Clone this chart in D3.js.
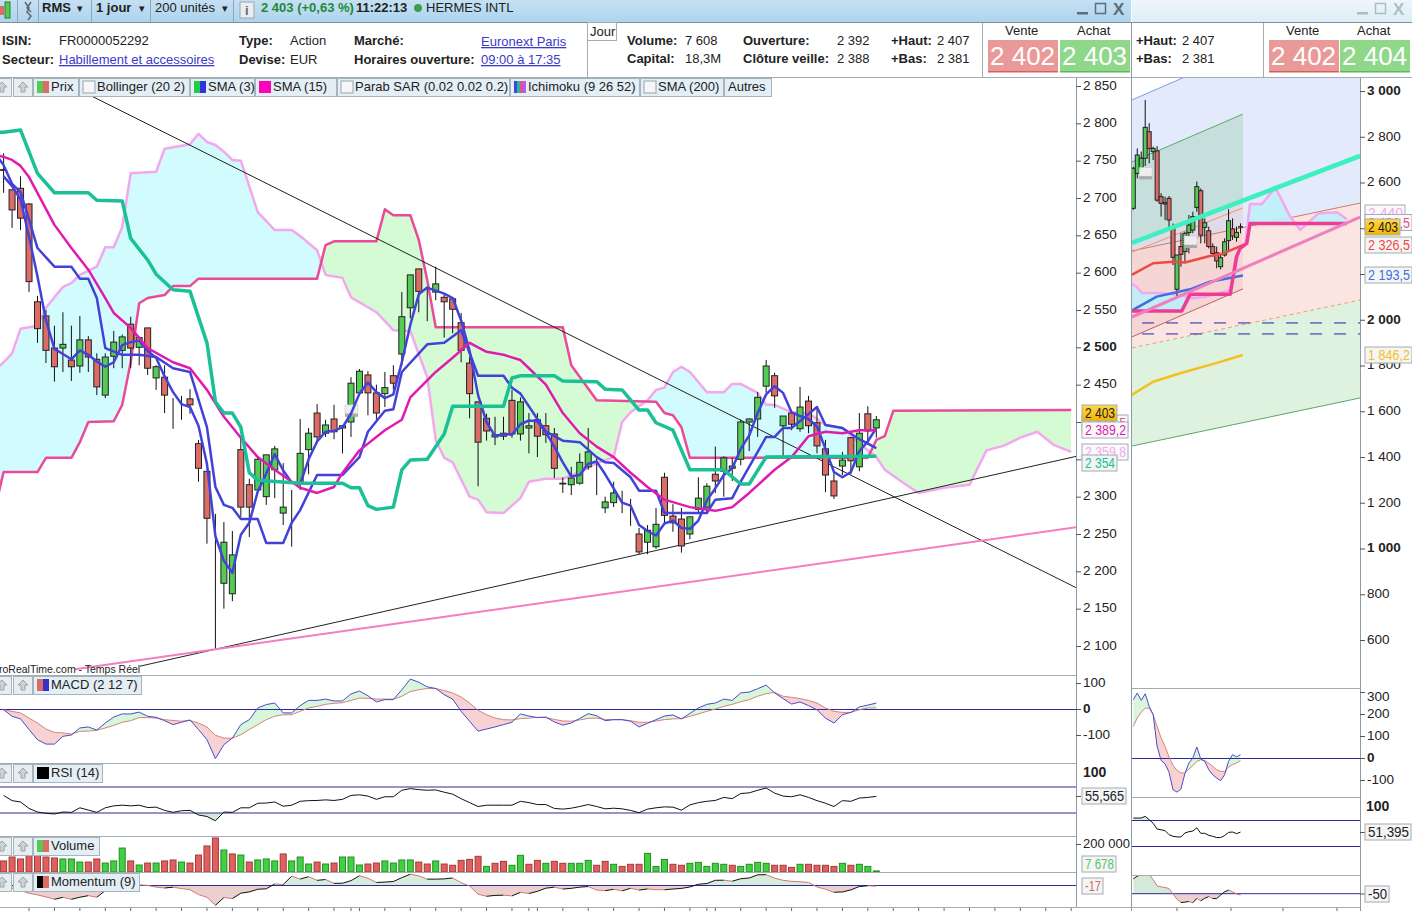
<!DOCTYPE html>
<html>
<head>
<meta charset="utf-8">
<title>RMS - HERMES INTL</title>
<script src="https://cdnjs.cloudflare.com/ajax/libs/d3/7.8.5/d3.min.js"></script>
<style>
body { margin:0; background:#fff; overflow:hidden; }
text { font-family:"Liberation Sans", Arial, sans-serif; font-size:13px; fill:#222; }
.b { font-weight:bold; }
.lnk { fill:#3b3bc8; text-decoration:underline; }
.axis path { stroke:#8d9ba5; }
.axis line { stroke:#555; }
.axis text { font-size:13.5px; fill:#222; }
</style>
</head>
<body>
<svg id="chart" width="1412" height="911"></svg>
<script>
// ---------- main window, price panel (1 bar = 1 day, index 0 is the oldest)
var opens = [2738,2711,2713,2692,2561,2542,2499,2499,2483,2475,2510,2484,2436,2488,2496,2531,2500,2526,2459,2460,2411,2425,2431,2371,2334,2133,2184,2170,2363,2316,2309,2300,2336,2278,2306,2318,2363,2412,2385,2404,2392,2400,2439,2463,2439,2438,2462,2491,2553,2605,2569,2574,2567,2565,2533,2479,2427,2405,2380,2385,2429,2384,2392,2403,2395,2384,2318,2316,2318,2340,2336,2285,2292,2278,2281,2250,2239,2233,2326,2274,2270,2250,2283,2286,2330,2334,2338,2350,2400,2404,2448,2462,2395,2412,2391,2428,2399,2364,2321,2341,2379,2340,2411,2392];
var highs = [2760,2711,2729,2693,2569,2550,2529,2547,2529,2542,2515,2492,2492,2522,2517,2541,2514,2526,2476,2476,2432,2435,2444,2376,2334,2277,2266,2254,2379,2324,2354,2356,2368,2345,2309,2404,2392,2424,2403,2423,2396,2460,2471,2468,2450,2467,2476,2574,2597,2605,2581,2608,2573,2567,2546,2487,2427,2411,2407,2407,2443,2433,2412,2412,2412,2392,2326,2340,2358,2392,2352,2300,2320,2308,2297,2258,2262,2285,2332,2290,2285,2273,2326,2318,2367,2354,2352,2403,2405,2440,2483,2466,2408,2413,2447,2435,2420,2376,2333,2360,2380,2412,2421,2408];
var lows = [2707,2660,2657,2574,2506,2479,2454,2467,2455,2466,2467,2436,2432,2472,2472,2472,2476,2463,2443,2412,2391,2403,2411,2320,2237,2097,2150,2160,2273,2246,2306,2289,2298,2262,2233,2309,2330,2372,2380,2377,2358,2380,2436,2409,2403,2420,2443,2476,2539,2547,2535,2563,2513,2519,2480,2405,2314,2375,2369,2376,2379,2375,2358,2353,2372,2325,2305,2302,2316,2336,2302,2278,2286,2278,2261,2223,2223,2230,2262,2253,2225,2243,2278,2278,2305,2300,2321,2342,2361,2380,2439,2419,2353,2389,2387,2385,2358,2306,2297,2329,2330,2334,2372,2379];
var closes = [2737,2684,2673,2588,2525,2496,2474,2504,2474,2510,2487,2447,2487,2507,2514,2499,2513,2472,2474,2436,2411,2425,2423,2338,2271,2133,2239,2222,2286,2286,2350,2356,2364,2286,2306,2358,2385,2380,2396,2387,2395,2452,2468,2439,2412,2446,2452,2541,2597,2575,2569,2585,2561,2551,2496,2438,2373,2388,2383,2381,2384,2427,2395,2381,2383,2338,2317,2325,2346,2360,2336,2293,2305,2278,2281,2226,2255,2263,2275,2265,2234,2273,2298,2314,2321,2352,2341,2400,2404,2433,2475,2435,2408,2397,2420,2395,2368,2329,2301,2349,2348,2385,2388,2403];

var sma3 = [2729,2716,2698,2648,2595,2536,2498,2491,2484,2496,2490,2481,2474,2480,2503,2507,2509,2495,2486,2461,2440,2424,2420,2395,2344,2247,2214,2198,2249,2265,2307,2331,2357,2335,2319,2317,2350,2374,2387,2388,2393,2411,2438,2453,2440,2432,2437,2480,2530,2571,2580,2576,2572,2566,2536,2495,2436,2400,2381,2384,2383,2397,2402,2401,2386,2367,2346,2327,2329,2344,2347,2330,2311,2292,2288,2262,2254,2248,2264,2268,2258,2257,2268,2295,2311,2329,2338,2364,2382,2412,2437,2448,2439,2413,2408,2404,2394,2364,2333,2326,2333,2361,2374,2392];

// lines as [bar index, price] vertices
var sma15 = [[-1,2758],[0,2755],[1,2751],[2,2743],[3,2728],[6,2664],[8,2633],[10,2604],[12,2566],[13,2546],[15,2526],[17,2499],[20,2480],[22,2472],[24,2443],[26,2407],[28,2379],[30,2353],[32,2336],[35,2312],[37,2305],[39,2313],[40,2332],[42,2362],[45,2389],[47,2403],[48,2433],[51,2467],[53,2486],[55,2506],[57,2494],[59,2490],[61,2483],[62,2472],[64,2450],[66,2412],[68,2385],[70,2367],[72,2353],[74,2332],[76,2313],[78,2296],[81,2286],[84,2281],[86,2286],[88,2305],[91,2336],[93,2353],[95,2381],[97,2387],[99,2385],[101,2389],[103,2389]];
var tenkan = [[-1,2760],[0,2744],[1,2719],[2,2708],[3,2671],[4,2633],[6,2608],[8,2608],[9,2592],[10,2592],[11,2566],[12,2499],[14,2490],[16,2490],[18,2487],[20,2472],[22,2467],[24,2393],[25,2313],[26,2289],[27,2285],[28,2270],[30,2270],[31,2238],[33,2238],[34,2265],[35,2282],[37,2329],[40,2329],[42,2353],[43,2387],[45,2415],[46,2417],[47,2467],[50,2504],[52,2506],[54,2523],[56,2462],[59,2462],[60,2446],[61,2438],[64,2387],[66,2375],[68,2373],[70,2353],[71,2346],[72,2345],[74,2326],[75,2308],[77,2308],[78,2278],[83,2278],[84,2296],[86,2298],[87,2320],[90,2380],[91,2380],[92,2392],[93,2392],[96,2420],[97,2396],[99,2392],[101,2377],[103,2365]];
var kijun = [[-1,2788],[0,2788],[2,2791],[4,2733],[6,2707],[10,2707],[11,2697],[14,2696],[15,2646],[17,2617],[18,2598],[20,2577],[22,2575],[24,2506],[25,2427],[26,2412],[27,2412],[28,2393],[29,2332],[30,2322],[35,2318],[40,2318],[41,2312],[42,2312],[43,2288],[44,2283],[46,2286],[47,2336],[48,2349],[50,2350],[52,2384],[53,2421],[59,2421],[60,2459],[61,2462],[65,2462],[66,2455],[70,2454],[71,2444],[73,2443],[75,2416],[76,2416],[77,2399],[79,2389],[81,2336],[85,2336],[87,2317],[88,2317],[90,2353],[103,2354]];
var senkouA = [[-1,2470],[0,2480],[1,2492],[2,2525],[4,2529],[5,2553],[7,2581],[8,2586],[9,2597],[11,2608],[12,2634],[13,2634],[14,2661],[15,2733],[18,2735],[19,2766],[22,2772],[23,2786],[24,2775],[25,2771],[26,2762],[27,2751],[28,2750],[30,2681],[32,2657],[34,2657],[35,2649],[37,2630],[38,2597],[40,2593],[41,2567],[44,2547],[46,2523],[48,2522],[50,2460],[51,2376],[52,2352],[53,2346],[55,2300],[56,2296],[57,2279],[59,2278],[61,2298],[62,2320],[64,2324],[66,2324],[68,2333],[70,2345],[72,2353],[73,2400],[74,2413],[76,2429],[77,2443],[78,2446],[79,2467],[80,2474],[81,2467],[83,2440],[85,2440],[86,2451],[87,2451],[89,2439],[90,2423],[91,2423],[93,2413],[95,2412],[97,2396],[99,2392],[102,2362],[103,2353],[104,2336],[106,2320],[108,2305],[111,2312],[114,2316],[116,2362],[118,2368],[120,2379],[122,2387],[124,2369],[126,2360]];
var senkouB = [[-1,2285],[0,2333],[4,2333],[5,2352],[8,2352],[9,2373],[10,2400],[13,2401],[14,2423],[15,2480],[16,2559],[17,2566],[19,2570],[20,2582],[22,2582],[23,2592],[37,2592],[38,2637],[39,2642],[44,2642],[45,2685],[46,2677],[48,2677],[49,2644],[50,2590],[51,2527],[66,2527],[67,2476],[70,2429],[77,2427],[78,2412],[79,2409],[80,2393],[81,2352],[102,2352],[103,2376],[104,2381],[105,2415],[126,2416]];

// straight trend lines, [bar index, price] end points
var trendDown = [[8,2850],[126.6,2178]];
var trendUp = [[16.1,2073],[126.6,2354]];
var trendPink = [[8.4,2069],[126.6,2259]];

var priceTicks = [2100,2150,2200,2250,2300,2350,2400,2450,2500,2550,2600,2650,2700,2750,2800,2850];
var barTicks = [3,6,9,12,15,18,21,24,27,30,33,36,39,41,42,45,48,51,54,57,60,62,63,66,69,72,75,78,81,83,84,87,90,93,96,99,102,105,108,111,114,117,120,123,126];

// ---------- main window, indicator panels
var macdLine = [-3,-28,-38,-79,-118,-135,-135,-105,-100,-73,-69,-81,-54,-31,-19,-19,-12,-28,-32,-45,-60,-51,-42,-79,-118,-191,-137,-112,-60,-41,4,17,23,-15,-15,13,33,33,38,31,31,58,69,51,27,36,36,74,115,103,85,79,55,38,-9,-47,-85,-77,-69,-60,-51,-19,-27,-33,-31,-50,-62,-54,-36,-18,-26,-45,-41,-41,-47,-69,-55,-41,-27,-23,-38,-17,4,18,23,38,33,62,65,78,92,62,40,19,27,13,-3,-35,-54,-22,-13,8,15,23];
var macdSignal = [-3,-9,-15,-35,-54,-77,-90,-92,-96,-86,-85,-82,-73,-63,-51,-45,-33,-33,-35,-41,-44,-47,-44,-54,-69,-101,-112,-112,-99,-79,-60,-41,-28,-22,-22,-9,4,10,18,22,24,33,42,41,38,38,38,49,67,74,79,79,71,62,46,23,-5,-22,-35,-41,-42,-37,-35,-32,-33,-40,-46,-47,-42,-36,-35,-40,-41,-41,-45,-51,-51,-46,-41,-38,-37,-28,-19,-9,0,10,18,28,36,49,59,64,49,45,40,33,23,4,-9,-13,-13,-3,4,4];
var rsiValues = [57,49,47,37,31.5,29.5,28.5,31.5,31,38,34.5,31,38,41,42,41,42,38.4,39,34,31,33.5,34,27,24.6,18,31.5,31,38,38,45,45.3,47,40.4,42,48,49,49.3,50.2,49.3,51,57,58,56,51,55,55,65,67.5,66,65,65.5,62,59,52,46,40,42,42,42,42,48,46,43,43,37,36,37.4,40,43,40,36.4,37.4,36.4,34,30.5,36,38,39.4,39,34.4,42.4,46,48,49.3,54,52,60,61,65,68.5,60.6,56,55,58,54,49,45,40,49,48,53,54,55.6];
var volumes = [79000,107000,93000,117000,117000,107000,100000,93000,93000,71000,71000,93000,64000,79000,171000,79000,50000,64000,64000,79000,86000,71000,64000,121000,186000,243000,157000,129000,121000,71000,86000,93000,79000,129000,79000,107000,57000,71000,57000,64000,107000,107000,50000,57000,64000,79000,64000,86000,86000,71000,57000,79000,57000,48000,83000,90000,112000,40000,62000,76000,48000,119000,55000,83000,62000,76000,62000,62000,62000,83000,48000,76000,55000,40000,55000,55000,133000,40000,90000,55000,48000,62000,69000,40000,62000,55000,48000,40000,55000,69000,62000,48000,48000,33000,55000,55000,48000,48000,40000,62000,48000,55000,40000,7678];
var volumeUp = [0,0,0,0,0,0,0,1,1,1,0,0,1,1,1,0,1,0,1,0,0,1,0,0,0,0,1,0,1,0,1,1,1,0,1,1,1,0,1,0,1,1,1,0,0,1,1,1,1,0,0,1,0,0,0,0,0,1,0,0,1,1,0,0,1,0,0,1,1,1,0,0,1,0,0,0,1,1,1,0,0,1,1,1,1,1,0,1,1,1,1,0,0,0,1,0,0,0,0,1,0,1,1,1];
var momentum = [-20,-60,-100,-150,-183,-220,-266,-228,-266,-227,-197,-226,-101,-18,18,25,9,-2,-36,-51,-36,-62,-84,-176,-228,-380,-233,-252,-150,-125,-75,-67,26,15,173,119,163,94,110,37,39,88,182,133,54,61,72,145,210,180,117,117,122,139,50,-14,-168,-209,-192,-188,-201,-134,-156,-115,-55,-35,-71,-58,-35,-24,-91,-102,-76,-105,-57,-91,-70,-83,-85,-71,-59,-32,20,33,95,97,78,125,139,199,202,137,94,76,68,54,-32,-75,-132,-126,-87,-23,-9,-17];

var macdTicks = [-100,0,100];

// ---------- second window (longer time frame)
var opens2 = [2487,2640,2662,2706,2822,2735,2738,2538,2512,2531,2400,2133,2320,2298,2381,2392,2491,2564,2404,2389,2320,2293,2232,2283,2346,2397,2360,2405];
var highs2 = [2669,2749,2735,2961,2859,2757,2759,2553,2538,2541,2421,2283,2378,2385,2458,2472,2604,2574,2443,2407,2334,2320,2283,2356,2483,2443,2407,2421];
var lows2 = [2480,2618,2625,2672,2684,2698,2516,2451,2436,2400,2239,2101,2232,2254,2290,2378,2472,2334,2334,2312,2276,2225,2220,2276,2305,2349,2341,2378];
var closes2 = [2662,2720,2706,2841,2749,2749,2523,2509,2506,2436,2273,2283,2286,2378,2414,2451,2582,2370,2424,2320,2290,2257,2271,2341,2433,2366,2382,2407];

var smaRed2 = [[-0.4,2196],[5,2247],[10,2254],[13,2250],[19.3,2279],[22.7,2290],[27.6,2326]];
var smaBlue2 = [[-0.4,2040],[5.9,2101],[14.3,2133],[19.3,2166],[27.6,2193]];
var smaYellow2 = [[-0.4,1671],[5,1729],[11.8,1766],[20.2,1807],[27.6,1846]];
var senkouA2 = [[-0.4,2156],[0.8,2145],[2.1,2118],[7.6,2116],[11.8,2108],[15.1,2094],[18.5,2101],[24.4,2130],[26.9,2320],[28.2,2334],[29.4,2506],[32.4,2506],[35.3,2567],[36.1,2567],[39.5,2451],[42,2392],[46.6,2465],[51.3,2470],[53.8,2439]];
var senkouB2 = [[-0.4,2038],[12.2,2038],[14.3,2111],[24.4,2111],[26,2276],[26.9,2312],[28.6,2334],[29.4,2421],[53.8,2421]];

var channelTop = [[-0.33,2961],[57.1,3393]];
var channelMid = [[-0.33,2301],[57.1,2510]];
var channelLow = [[-0.33,1877],[57.1,2086]];
var channelBase = [[-0.33,1448],[57.1,1658]];
var shortUpper = [[-0.33,2690],[27.6,2899]];
var shortMiddle = [[-0.33,2336],[27.6,2521]];
var shortLower = [[-0.33,1925],[27.6,2135]];
var trendTeal2 = [[-0.33,2336],[57.1,2716]];
var trendPink2 = [[-0.33,2012],[57.1,2449]];
var trendOrange2 = [[-0.33,2296],[27.6,2489]];
var dashLevels2 = [1986,1938];

var priceTicks2 = [600,800,1000,1200,1400,1600,1800,2000,2200,2400,2600,2800,3000];

var macdLine2 = [265,295,262,292,235,197,53,-11,-27,-65,-144,-155,-141,-71,-23,0,50,-5,-15,-53,-76,-91,-103,-76,-15,15,5,15];
var macdSignal2 = [144,182,208,226,227,197,144,91,53,5,-33,-56,-68,-68,-50,-35,-15,-8,-11,-23,-38,-53,-61,-61,-41,-30,-23,-12];
var rsiValues2 = [73,73,73,75.6,70.5,65,56,55,53.6,47.4,45,44,44,50,52,53,58,49.5,49.5,46.4,45,43,43,46,51,51.5,49,51.4];
var momentum2 = [575,675,725,850,725,550,300,262,237,200,-12,-212,-337,-325,-300,-350,-175,-275,-175,-112,-187,-187,-50,75,137,75,-12,-50];
var macdTicks2 = [-100,0,100,200,300];
var barTicks2 = [11,24.6,37.7,51.3];

// ---------- legends and header texts
var priceLegend = ["Prix","Bollinger (20 2)","SMA (3)","SMA (15)","Parab SAR (0.02 0.02 0.2)","Ichimoku (9 26 52)","SMA (200)","Autres"];

var svg = d3.select("#chart");
var defs = svg.append("defs");

var spaceFormat = d3.formatLocale({ decimal:",", thousands:" ", grouping:[3], currency:["",""], minus:"-" }).format(",");

// Scales
var x = d3.scaleLinear().domain([0,103]).range([3.6,876.3]);
var y = d3.scaleLinear().domain([2100,2850]).range([646,86]);
var x2 = d3.scaleLinear().domain([0,27]).range([1133.3,1240.5]);
var y2 = d3.scaleLinear().domain([600,3000]).range([640,91]);

var macdY = d3.scaleLinear().domain([-100,100]).range([735,683]);
var rsiY = d3.scaleLinear().domain([30,70]).range([813,787]);
var volY = d3.scaleLinear().domain([0,200000]).range([872,844]);
var momY = d3.scaleLinear().domain([-380,0]).range([905.3,885.3]);

var macdY2 = d3.scaleLinear().domain([0,100]).range([758,736]);
var rsiY2 = d3.scaleLinear().domain([30,70]).range([846,820]);
var momY2 = d3.scaleLinear().domain([-50,0]).range([895,893.7]);

function indexed(values) {
    return values.map(function(v, i) { return [i, v]; });
}

function pathOf(pts, sx, sy) {
    return d3.line().x(function(d){ return sx(d[0]); }).y(function(d){ return sy(d[1]); })(pts);
}

function clipRect(id, x0, y0, w, h) {
    defs.append("clipPath").attr("id", id)
        .append("rect").attr("x", x0).attr("y", y0).attr("width", w).attr("height", h);
}

function panel(id, x0, y0, w, h) {
    clipRect(id, x0, y0, w, h);
    return svg.append("g").attr("clip-path", "url(#" + id + ")");
}

function drawLine(g, pts, sx, sy, color, width) {
    return g.append("path").attr("d", pathOf(pts, sx, sy))
        .attr("fill", "none").attr("stroke", color).attr("stroke-width", width)
        .attr("stroke-linejoin", "round");
}

// fills between two polylines, one colour where a is above b, another where it is below
var fillCount = 0;
function fillBetween(g, a, b, sx, sy, colAbove, colBelow, top, bottom) {
    var shape = pathOf(a, sx, sy) + pathOf(b.slice().reverse(), sx, sy).replace("M", "L") + "Z";
    var line = pathOf(b, sx, sy);
    var x0 = sx(b[0][0]), x1 = sx(b[b.length - 1][0]);
    fillCount += 1;
    if (colAbove != "none") {
        defs.append("clipPath").attr("id", "up" + fillCount).append("path")
            .attr("d", line + "L" + x1 + "," + top + "L" + x0 + "," + top + "Z");
        g.append("path").attr("d", shape).attr("fill", colAbove).attr("clip-path", "url(#up" + fillCount + ")");
    }
    if (colBelow != "none") {
        defs.append("clipPath").attr("id", "dn" + fillCount).append("path")
            .attr("d", line + "L" + x1 + "," + bottom + "L" + x0 + "," + bottom + "Z");
        g.append("path").attr("d", shape).attr("fill", colBelow).attr("clip-path", "url(#dn" + fillCount + ")");
    }
}

function drawCandles(g, o, h, l, c, sx, sy, width) {
    var data = o.map(function(v, i) { return { i:i, o:v, h:h[i], l:l[i], c:c[i] }; });
    g.selectAll(null).data(data).enter().append("line")
        .attr("x1", function(d){ return sx(d.i); })
        .attr("x2", function(d){ return sx(d.i); })
        .attr("y1", function(d){ return sy(d.h); })
        .attr("y2", function(d){ return sy(d.l); })
        .attr("stroke", "#111").attr("stroke-width", 1);
    g.selectAll(null).data(data).enter().append("rect")
        .attr("x", function(d){ return sx(d.i) - width / 2; })
        .attr("width", width)
        .attr("y", function(d){ return Math.min(sy(d.o), sy(d.c)); })
        .attr("height", function(d){ return Math.abs(sy(d.o) - sy(d.c)); })
        .attr("fill", function(d){ return d.c >= d.o ? "#54cb54" : "#dd6b66"; })
        .attr("stroke", "#222").attr("stroke-width", 1);
}

// momentum line is black going up and red going down
function drawMomentum(g, values, sx, sy) {
    values.slice(1).forEach(function(v, i) {
        drawLine(g, [[i, values[i]], [i + 1, v]], sx, sy, v >= values[i] ? "#111" : "#cf7a72", 1);
    });
}

function calendarIcon(g, cx, cy) {
    g.append("rect").attr("x", cx - 6).attr("y", cy - 6).attr("width", 13).attr("height", 9)
        .attr("fill", "#eee").attr("stroke", "#bbb").attr("stroke-dasharray", "1 1");
    g.append("rect").attr("x", cx - 6).attr("y", cy + 3).attr("width", 13).attr("height", 3).attr("fill", "#aaa");
}

function hLine(y0, x0, x1, color, width) {
    svg.append("line").attr("x1", x0).attr("x2", x1).attr("y1", y0).attr("y2", y0)
        .attr("stroke", color).attr("stroke-width", width || 1);
}

function vLine(x0, y0, y1, color, width) {
    svg.append("line").attr("x1", x0).attr("x2", x0).attr("y1", y0).attr("y2", y1)
        .attr("stroke", color).attr("stroke-width", width || 1);
}

function txt(x0, y0, s, cls, extra) {
    var t = svg.append("text").attr("x", x0).attr("y", y0).text(s);
    if (cls) t.attr("class", cls);
    if (extra) Object.keys(extra).forEach(function(k) { t.style(k, extra[k]); });
    return t;
}

// boxed value next to an axis, text squeezed into the box like in the reference
function valueBox(x0, yc, w, s, color, bg) {
    svg.append("rect").attr("x", x0).attr("y", yc - 8).attr("width", w).attr("height", 16)
        .attr("fill", bg || "#f5f5f5").attr("stroke", "#a3acb2");
    txt(x0 + 3, yc + 5, s, null, { fill:color, "font-size":"14px" })
        .attr("textLength", w - 5).attr("lengthAdjust", "spacingAndGlyphs");
}

function legendBox(x0, w, y0, label, colors, checkbox) {
    svg.append("rect").attr("x", x0 + 0.5).attr("y", y0 + 0.5).attr("width", w).attr("height", 18)
        .attr("fill", "#e4eef5").attr("stroke", "#a6b4bd");
    var sx = x0 + 4;
    if (checkbox) {
        svg.append("rect").attr("x", sx).attr("y", y0 + 3).attr("width", 12).attr("height", 12)
            .attr("fill", "#f6f6f6").attr("stroke", "#9aa4aa");
        sx += 14;
    } else if (colors) {
        var each = 12 / colors.length;
        colors.forEach(function(c, i) {
            svg.append("rect").attr("x", sx + i * each).attr("y", y0 + 3).attr("width", each).attr("height", 12).attr("fill", c);
        });
        sx += 14;
    }
    txt(sx, y0 + 13, label);
}

function navButtons(y0) {
    [-8, 13].forEach(function(bx) {
        svg.append("rect").attr("x", bx + 0.5).attr("y", y0 + 0.5).attr("width", 19).attr("height", 18)
            .attr("fill", "#e8edf0").attr("stroke", "#a6b4bd");
        svg.append("path").attr("d", "M" + (bx + 5) + "," + (y0 + 9) + "L" + (bx + 10) + "," + (y0 + 4) + "L" + (bx + 15) + "," + (y0 + 9) + "H" + (bx + 12) + "V" + (y0 + 14) + "H" + (bx + 8) + "V" + (y0 + 9) + "Z")
            .attr("fill", "#ccd2d6").attr("stroke", "#9aa4aa");
    });
}

function styleAxis(g, bold) {
    g.attr("class", "axis");
    g.selectAll(".tick text").attr("y", -1).attr("x", 7);
    g.selectAll(".tick text").filter(function(d){ return bold.indexOf(d) >= 0; }).style("font-weight", "bold");
}

// Background and window frames
svg.append("rect").attr("width", 1412).attr("height", 911).attr("fill", "#fff");

var grad = defs.append("linearGradient").attr("id", "barBlue").attr("x1", 0).attr("x2", 0).attr("y1", 0).attr("y2", 1);
grad.append("stop").attr("offset", 0).attr("stop-color", "#c4e0f3");
grad.append("stop").attr("offset", 1).attr("stop-color", "#aed4ee");
var grad2 = defs.append("linearGradient").attr("id", "barPale").attr("x1", 0).attr("x2", 0).attr("y1", 0).attr("y2", 1);
grad2.append("stop").attr("offset", 0).attr("stop-color", "#eef6fb");
grad2.append("stop").attr("offset", 1).attr("stop-color", "#dcecf6");
var gold = defs.append("linearGradient").attr("id", "gold").attr("x1", 0).attr("x2", 0).attr("y1", 0).attr("y2", 1);
gold.append("stop").attr("offset", 0).attr("stop-color", "#ffd84a");
gold.append("stop").attr("offset", 1).attr("stop-color", "#f0b400");

// ---- Main window, price panel
var g = panel("mainClip", 0, 78, 1076, 597);

fillBetween(g, senkouA, senkouB, x, y, "#d2fbfd", "#d4fbd4", 78, 675);
drawLine(g, senkouA, x, y, "#f3a8ee", 2.5);
drawLine(g, senkouB, x, y, "#ea4a98", 2.5);
drawLine(g, trendDown, x, y, "#222", 1);
drawLine(g, trendUp, x, y, "#222", 1);
drawLine(g, trendPink, x, y, "#f57cc0", 2);
drawCandles(g, opens, highs, lows, closes, x, y, 6);
calendarIcon(g, x(41), y(2415));
drawLine(g, tenkan, x, y, "#4242d8", 2.5);
drawLine(g, indexed(sma3), x, y, "#4242d8", 2.5);
drawLine(g, sma15, x, y, "#e01cb0", 2.5);
drawLine(g, kijun, x, y, "#1cc096", 3.5);
txt(-1, 673, "roRealTime.com - Temps Réel", null, { "font-size":"10.5px" });

// Price axis
var yAxisCall = d3.axisRight(y).tickValues(priceTicks).tickSize(5).tickFormat(spaceFormat);
var yAxisGroup = svg.append("g").attr("transform", "translate(1076,0)").call(yAxisCall);
styleAxis(yAxisGroup, [2500]);
yAxisGroup.select(".domain").attr("d", "M0.5,78V907");

// ---- Main window, MACD
hLine(675.5, 0, 1076, "#a3acb2");
var gMacd = panel("macdClip", 0, 676, 1076, 87);
fillBetween(gMacd, indexed(macdLine), indexed(macdSignal), x, macdY, "#d8f6da", "#f8d2d2", 676, 763);
hLine(709.5, 0, 1076, "#2b2b9c");
gMacd = panel("macdClip2", 0, 676, 1076, 87);
drawLine(gMacd, indexed(macdSignal), x, macdY, "#d08577", 1);
drawLine(gMacd, indexed(macdLine), x, macdY, "#4a4ad0", 1);
var macdAxis = svg.append("g").attr("transform", "translate(1076,0)")
    .call(d3.axisRight(macdY).tickValues(macdTicks).tickSize(5).tickFormat(spaceFormat));
styleAxis(macdAxis, [0]);
macdAxis.select(".domain").remove();

// ---- Main window, RSI
hLine(763.5, 0, 1076, "#a3acb2");
var gRsi = panel("rsiClip", 0, 764, 1076, 72);
fillBetween(gRsi, indexed(rsiValues), [[0,30],[103,30]], x, rsiY, "none", "#d5ead5", 764, 836);
hLine(787, 0, 1076, "#2b2b9c");
hLine(813, 0, 1076, "#2b2b9c");
gRsi = panel("rsiClip2", 0, 764, 1076, 72);
drawLine(gRsi, indexed(rsiValues), x, rsiY, "#111", 1);

// ---- Main window, volume
hLine(836.5, 0, 1076, "#a3acb2");
var gVol = panel("volClip", 0, 837, 1076, 36);
gVol.selectAll("rect").data(volumes).enter().append("rect")
    .attr("x", function(d, i){ return x(i) - 3; })
    .attr("width", 6)
    .attr("y", function(d){ return volY(d); })
    .attr("height", function(d){ return volY(0) - volY(d); })
    .attr("fill", function(d, i){ return volumeUp[i] ? "#43cf43" : "#e0605f"; })
    .attr("stroke", function(d, i){ return volumeUp[i] ? "#1f8f1f" : "#a33a3a"; });

// ---- Main window, momentum
hLine(872.5, 0, 1076, "#a3acb2");
var gMom = panel("momClip", 0, 873, 1076, 34);
fillBetween(gMom, indexed(momentum), [[0,0],[103,0]], x, momY, "#d8ecdc", "#ecd0d0", 873, 907);
hLine(885.5, 0, 1076, "#2b2b9c");
gMom = panel("momClip2", 0, 873, 1076, 34);
drawMomentum(gMom, momentum, x, momY);

// Bottom time ticks
hLine(907.5, 0, 1131, "#a3acb2");
svg.selectAll(null).data(barTicks).enter().append("line")
    .attr("x1", function(d){ return x(d); })
    .attr("x2", function(d){ return x(d); })
    .attr("y1", 908).attr("y2", 911).attr("stroke", "#666");

txt(1083, 777, "100", "b", { "font-size":"14px" });
svg.append("line").attr("x1", 1076).attr("x2", 1081).attr("y1", 796.5).attr("y2", 796.5).attr("stroke", "#555");
valueBox(1082, 796, 44, "55,565", "#222");
var volAxis = svg.append("g").attr("transform", "translate(1076,0)")
    .call(d3.axisRight(volY).tickValues([200000]).tickSize(5).tickFormat(spaceFormat));
styleAxis(volAxis, []);
volAxis.select(".domain").remove();
volAxis.selectAll(".tick text").style("font-size", "13px");
valueBox(1082, 864, 34, "7 678", "#55c46a");
valueBox(1082, 886, 21, "-17", "#cf6a62");

// Value labels on the price axis
valueBox(1082, 423, 46, "2 415,5", "#ea4a98", "#fafafa");
valueBox(1082, 430, 46, "2 389,2", "#e01cb0", "#fafafa");
valueBox(1082, 452, 46, "2 359,8", "#f3a8ee", "#fafafa");
valueBox(1082, 463, 35, "2 354", "#1cc096", "#f0f4f2");
valueBox(1082, 413, 35, "2 403", "#222", "url(#gold)");

// ---- Second window, price panel
vLine(1131.5, 23, 911, "#8d9ba5");
vLine(1360.5, 78, 911, "#8d9ba5");

var g2 = panel("sideClip", 1132, 78, 228, 610);
function band(upper, lower, color) {
    g2.append("path")
        .attr("d", pathOf(upper, x2, y2) + pathOf(lower.slice().reverse(), x2, y2).replace("M", "L") + "Z")
        .attr("fill", color);
}
band(channelTop, channelMid, "#e3eafb");
band(channelMid, channelLow, "#fbe5e3");
band(channelLow, channelBase, "#dff2df");
band(shortUpper, shortMiddle, "rgba(90,180,100,0.2)");
band(shortMiddle, shortLower, "rgba(210,110,110,0.12)");
drawLine(g2, channelTop, x2, y2, "#7c9ae8", 1);
drawLine(g2, shortUpper, x2, y2, "#58a868", 1);
drawLine(g2, channelBase, x2, y2, "#58a868", 1);
drawLine(g2, channelMid, x2, y2, "#c77a70", 1);
drawLine(g2, shortLower, x2, y2, "#b5655c", 1);
drawLine(g2, trendOrange2, x2, y2, "#e89a60", 1);
drawLine(g2, channelLow, x2, y2, "#e8a070", 1).attr("stroke-dasharray", "4 3");
dashLevels2.forEach(function(p) {
    drawLine(g2, [[2.2,p],[57.1,p]], x2, y2, "#2222aa", 1).attr("stroke-dasharray", "12 12");
});
fillBetween(g2, senkouA2, senkouB2, x2, y2, "rgba(190,240,250,0.9)", "rgba(225,205,235,0.5)", 78, 688);
drawLine(g2, smaYellow2, x2, y2, "#f4c020", 2.5);
drawLine(g2, senkouA2, x2, y2, "#f3a8ee", 2.5);
drawCandles(g2, opens2, highs2, lows2, closes2, x2, y2, 4);
calendarIcon(g2, x2(3), y2(2640));
calendarIcon(g2, x2(14.3), y2(2340));
drawLine(g2, smaBlue2, x2, y2, "#3c6fe0", 2.5);
drawLine(g2, smaRed2, x2, y2, "#ee4a44", 2.5);
drawLine(g2, senkouB2, x2, y2, "#ee3c94", 3.5);
drawLine(g2, trendPink2, x2, y2, "#ee80bd", 3);
drawLine(g2, trendTeal2, x2, y2, "#3df0c0", 4.5);

var y2Axis = svg.append("g").attr("transform", "translate(1360,0)")
    .call(d3.axisRight(y2).tickValues(priceTicks2).tickSize(5).tickFormat(spaceFormat));
styleAxis(y2Axis, [3000,2000,1000]);
y2Axis.select(".domain").remove();

valueBox(1365, 213, 40, "2 440", "#f3a8ee", "#fafafa");
valueBox(1365, 222.5, 47, "2 421,5", "#ea4a98", "#fafafa");
valueBox(1365, 245, 47, "2 326,5", "#ee4a44");
valueBox(1365, 275, 47, "2 193,5", "#3c6fe0");
valueBox(1365, 355, 47, "1 846,2", "#f4c020");
valueBox(1365, 227, 35, "2 403", "#222", "url(#gold)");

// ---- Second window, MACD
hLine(688.5, 1132, 1360, "#a3acb2");
var g2Macd = panel("sideMacd", 1132, 689, 228, 108);
fillBetween(g2Macd, indexed(macdLine2), indexed(macdSignal2), x2, macdY2, "#d8f6da", "#f8d2d2", 689, 797);
hLine(758.5, 1132, 1360, "#2b2b9c");
g2Macd = panel("sideMacd2", 1132, 689, 228, 108);
drawLine(g2Macd, indexed(macdSignal2), x2, macdY2, "#d08577", 1);
drawLine(g2Macd, indexed(macdLine2), x2, macdY2, "#4a4ad0", 1);
var macd2Axis = svg.append("g").attr("transform", "translate(1360,0)")
    .call(d3.axisRight(macdY2).tickValues(macdTicks2).tickSize(5).tickFormat(spaceFormat));
styleAxis(macd2Axis, [0]);
macd2Axis.select(".domain").remove();
macd2Axis.selectAll(".tick text").filter(function(d){ return d == 300; }).attr("y", 4);

// ---- Second window, RSI
hLine(797.5, 1132, 1360, "#a3acb2");
var g2Rsi = panel("sideRsi", 1132, 798, 228, 77);
fillBetween(g2Rsi, indexed(rsiValues2), [[0,70],[27,70]], x2, rsiY2, "#dceedd", "none", 798, 875);
hLine(820.5, 1132, 1360, "#2b2b9c");
hLine(846.5, 1132, 1360, "#2b2b9c");
g2Rsi = panel("sideRsi2", 1132, 798, 228, 77);
drawLine(g2Rsi, indexed(rsiValues2), x2, rsiY2, "#111", 1);
txt(1366, 811, "100", "b", { "font-size":"14px" });
svg.append("line").attr("x1", 1360).attr("x2", 1365).attr("y1", 832.5).attr("y2", 832.5).attr("stroke", "#555");
valueBox(1365, 832, 46, "51,395", "#222");

// ---- Second window, momentum
hLine(875.5, 1132, 1360, "#a3acb2");
var g2Mom = panel("sideMom", 1132, 876, 228, 31);
fillBetween(g2Mom, indexed(momentum2), [[0,0],[27,0]], x2, momY2, "#d4e9d8", "#ecd0d0", 876, 907);
hLine(893.7, 1132, 1360, "#2b2b9c");
g2Mom = panel("sideMom2", 1132, 876, 228, 31);
drawMomentum(g2Mom, momentum2, x2, momY2);
svg.append("line").attr("x1", 1360).attr("x2", 1365).attr("y1", 894).attr("y2", 894).attr("stroke", "#555");
valueBox(1365, 894, 24, "-50", "#222");
hLine(907.5, 1132, 1360, "#a3acb2");
svg.selectAll(null).data(barTicks2).enter().append("line")
    .attr("x1", function(d){ return x2(d); })
    .attr("x2", function(d){ return x2(d); })
    .attr("y1", 908).attr("y2", 911).attr("stroke", "#666");

// ---- Legends over the panels
navButtons(78);
var legendX = [33,79,190,255,337,510,640,724];
var legendW = [45,110,64,81,172,129,83,47];
var legendColors = [["#54cb54","#dd6b66"],null,["#22cc44","#3333dd"],["#ff00bb"],null,["#4545d5","#1cc096","#ea4a98","#b060e0"],null,null];
var legendChecks = [false,true,false,false,true,false,true,false];
priceLegend.forEach(function(label, i) {
    legendBox(legendX[i], legendW[i], 78, label, legendColors[i], legendChecks[i]);
});

navButtons(676);
legendBox(33, 108, 676, "MACD (2 12 7)", ["#dd6b66","#3333cc"]);
navButtons(764);
legendBox(33, 69, 764, "RSI (14)", ["#000"]);
navButtons(837);
legendBox(33, 66, 837, "Volume", ["#54cb54","#dd6b66"]);
navButtons(873);
legendBox(33, 106, 873, "Momentum (9)", ["#000","#dd6b66"]);

// ---- Header
svg.append("rect").attr("width", 1131).attr("height", 22).attr("fill", "url(#barBlue)");
svg.append("rect").attr("x", 1132).attr("width", 280).attr("height", 22).attr("fill", "url(#barPale)");
hLine(22.5, 0, 1412, "#7f8f9a");
hLine(77.5, 0, 1412, "#a3acb2");

// toolbar icons
svg.append("rect").attr("x", 0).attr("y", 6).attr("width", 4).attr("height", 9).attr("fill", "#dd6b66");
svg.append("rect").attr("x", 5).attr("y", 2).attr("width", 5).attr("height", 16).attr("fill", "#54cb54").attr("stroke", "#2e7d2e");
svg.append("path").attr("d", "M25,2L29,8L27,12L31,16L28,20M31,2L27,8L31,12").attr("fill", "none").attr("stroke", "#666").attr("stroke-width", 1.5);
[17,38,91,150,233].forEach(function(bx) { vLine(bx + 0.5, 0, 22, "#8fa7b6"); });
svg.append("rect").attr("x", 240).attr("y", 2).attr("width", 14).attr("height", 16).attr("fill", "#e8eef2").attr("stroke", "#9aa4aa");
txt(245, 15, "i", "b", { fill:"#667" });

txt(42, 12, "RMS", "b");
txt(77, 12, "▾", null, { "font-size":"11px" });
txt(96, 12, "1 jour", "b");
txt(139, 12, "▾", null, { "font-size":"11px" });
txt(155, 12, "200 unités");
txt(222, 12, "▾", null, { "font-size":"11px" });
txt(261, 12, "2 403 (+0,63 %)", "b", { fill:"#1e8a3a" });
txt(356, 12, "11:22:13", "b");
svg.append("circle").attr("cx", 418).attr("cy", 8).attr("r", 4).attr("fill", "#3aa04a");
txt(426, 12, "HERMES INTL");

// window buttons
function winButtons(x0, color) {
    svg.append("rect").attr("x", x0).attr("y", 12).attr("width", 11).attr("height", 2.5).attr("fill", color);
    svg.append("rect").attr("x", x0 + 18.5).attr("y", 3.5).attr("width", 10).attr("height", 10).attr("fill", "none").attr("stroke", color).attr("stroke-width", 1.5);
    txt(x0 + 36, 15, "X", "b", { fill:color, "font-size":"17px" });
}
winButtons(1077, "#5d6d78");
winButtons(1357, "#b0bcc4");

txt(2, 45, "ISIN:", "b");
txt(59, 45, "FR0000052292");
txt(2, 64, "Secteur:", "b");
txt(59, 64, "Habillement et accessoires", "lnk");
txt(239, 45, "Type:", "b");
txt(290, 45, "Action");
txt(239, 64, "Devise:", "b");
txt(290, 64, "EUR");
txt(354, 45, "Marché:", "b");
txt(481, 46, "Euronext Paris", "lnk");
txt(354, 64, "Horaires ouverture:", "b");
txt(481, 64, "09:00 à 17:35", "lnk");

vLine(587.5, 23, 77, "#a3acb2");
svg.append("rect").attr("x", 587.5).attr("y", 22.5).attr("width", 29).attr("height", 18).attr("fill", "#fff").attr("stroke", "#a3acb2");
txt(590, 36, "Jour");

txt(627, 45, "Volume:", "b");
txt(685, 45, "7 608");
txt(627, 63, "Capital:", "b");
txt(685, 63, "18,3M");
txt(743, 45, "Ouverture:", "b");
txt(837, 45, "2 392");
txt(743, 63, "Clôture veille:", "b");
txt(837, 63, "2 388");
txt(891, 45, "+Haut:", "b");
txt(937, 45, "2 407");
txt(891, 63, "+Bas:", "b");
txt(937, 63, "2 381");

txt(1136, 45, "+Haut:", "b");
txt(1182, 45, "2 407");
txt(1136, 63, "+Bas:", "b");
txt(1182, 63, "2 381");

function quote(x0, label, s, fill, edge) {
    txt(x0 + 17, 35, label);
    svg.append("rect").attr("x", x0).attr("y", 40).attr("width", 70).attr("height", 32).attr("fill", fill);
    svg.append("rect").attr("x", x0).attr("y", 71).attr("width", 70).attr("height", 1.5).attr("fill", edge);
    txt(x0 + 2, 65, s, null, { fill:"#fff", "font-size":"26px" });
}
vLine(982.5, 23, 77, "#a3acb2");
vLine(1263.5, 23, 77, "#a3acb2");
quote(988, "Vente", "2 402", "#e99a98", "#d55f5a");
quote(1060, "Achat", "2 403", "#8fd88a", "#5cb85a");
quote(1269, "Vente", "2 402", "#e99a98", "#d55f5a");
quote(1340, "Achat", "2 404", "#8fd88a", "#5cb85a");
</script>
</body>
</html>
